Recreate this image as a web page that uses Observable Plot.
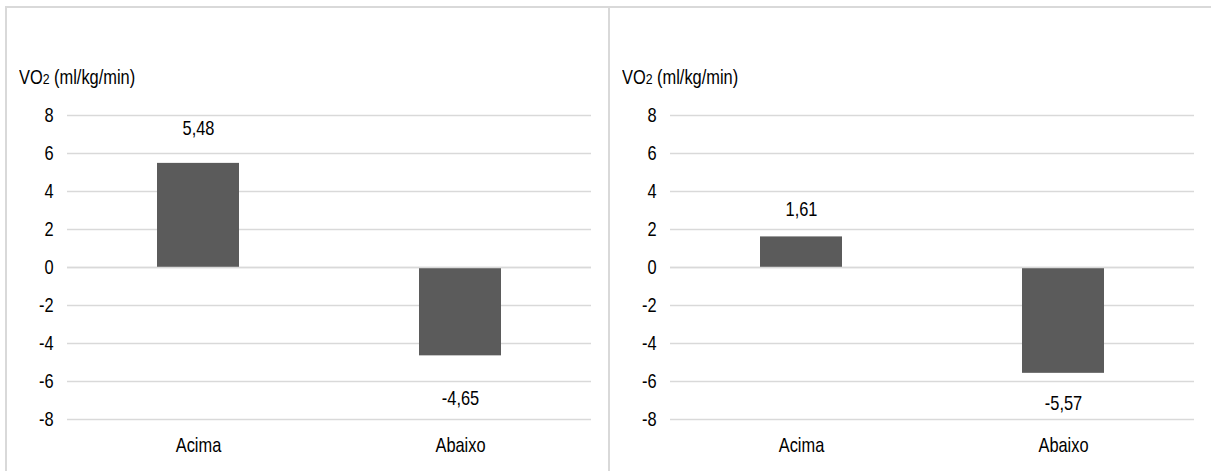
<!DOCTYPE html>
<html>
<head>
<meta charset="utf-8">
<script src="https://cdn.jsdelivr.net/npm/d3@7"></script>
<script src="https://cdn.jsdelivr.net/npm/@observablehq/plot@0.6"></script>
<style>
  html, body { margin: 0; padding: 0; background: #fff; }
  body { width: 1211px; height: 471px; position: relative; overflow: hidden;
         font-family: "Liberation Sans", Arial, sans-serif; }
  .line { position: absolute; background: #d9d9d9; }
  .panel { position: absolute; top: 0; width: 603px; height: 471px; }
  .ytitle { position: absolute; left: 13px; top: 67px; font-size: 20px; line-height: 20px; color: #000;
            white-space: nowrap; display: inline-block; transform: scaleX(0.82); transform-origin: left center; }
  .ytitle .sub { font-size: 15px; }
  .chart { position: absolute; left: 0; top: 95px; }
</style>
</head>
<body>
<div class="line" style="left:6px; top:6px; width:1205px; height:2px;"></div>
<div class="line" style="left:5px; top:6px; width:2px; height:465px;"></div>
<div class="line" style="left:608px; top:6px; width:2px; height:465px;"></div>
<div id="left" class="panel" style="left:6px;"></div>
<div id="right" class="panel" style="left:609px;"></div>
<script>
// Change in VO2 (ml/kg/min) for the two groups, in each of the two panels
const categories = ["Acima", "Abaixo"];
const leftValues = [5.48, -4.65];
const rightValues = [1.61, -5.57];
const yTicks = [-8, -6, -4, -2, 0, 2, 4, 6, 8];

// Label distance from the bar end, per panel (pixels)
const leftGaps = { above: 35, below: 43 };
const rightGaps = { above: 27, below: 30 };

const FONT = '"Liberation Sans", Arial, sans-serif';
const NARROW = 0.82; // horizontal squeeze giving a narrow face
const BAR = "#5b5b5b";
const GRID = "#d9d9d9";

const fmt = v => v.toFixed(2).replace(".", ",");

// Squeeze every SVG label horizontally around its own anchor point
function narrowText(svg) {
  svg.querySelectorAll("text").forEach(t => {
    let tr = t.getAttribute("transform") || "";
    if (t.hasAttribute("x")) {
      const x = parseFloat(t.getAttribute("x")) || 0;
      t.removeAttribute("x");
      tr += ` translate(${x},0)`;
    }
    t.setAttribute("transform", `${tr} scale(${NARROW},1)`);
  });
}

function drawPanel(container, values, gaps) {
  const rows = categories.map((cat, i) => ({ cat, v: values[i] }));
  const title = document.createElement("div");
  title.className = "ytitle";
  title.innerHTML = 'VO<span class="sub">2</span> (ml/kg/min)';
  container.appendChild(title);

  const chart = Plot.plot({
    width: 603,
    height: 364,
    marginTop: 20,
    marginBottom: 40,
    marginLeft: 61,
    marginRight: 18,
    style: { fontFamily: FONT, fontSize: "20px", color: "#000", background: "transparent", overflow: "visible" },
    x: { domain: categories, paddingInner: 0.687, paddingOuter: 0.3435, label: null, tickSize: 0, tickPadding: 18 },
    y: { domain: [-8, 8], ticks: yTicks, label: null, tickSize: 0, tickPadding: 14, tickFormat: d => String(d) },
    marks: [
      Plot.ruleY(yTicks, { stroke: GRID, strokeWidth: 1.5 }),
      Plot.barY(rows, { x: "cat", y: "v", fill: BAR }),
      Plot.ruleY([0], { stroke: GRID, strokeWidth: 1.5 }),
      Plot.text(rows.filter(d => d.v >= 0), { x: "cat", y: "v", text: d => fmt(d.v), dy: -gaps.above, fill: "#000" }),
      Plot.text(rows.filter(d => d.v < 0), { x: "cat", y: "v", text: d => fmt(d.v), dy: gaps.below, fill: "#000" })
    ]
  });
  narrowText(chart);
  chart.classList.add("chart");
  container.appendChild(chart);
}

drawPanel(document.getElementById("left"), leftValues, leftGaps);
drawPanel(document.getElementById("right"), rightValues, rightGaps);
</script>
</body>
</html>
